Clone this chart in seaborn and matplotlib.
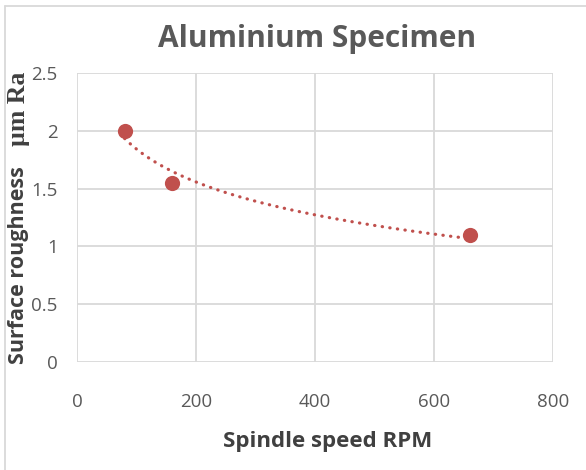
import matplotlib
matplotlib.use("Agg")
import matplotlib.pyplot as plt
import seaborn as sns
import pandas as pd
from matplotlib.lines import Line2D

# Data
spindle_speed = [80, 160, 660]
roughness = [2.0, 1.55, 1.1]
x_ticks = [0, 200, 400, 600, 800]
y_ticks = [0, 0.5, 1, 1.5, 2, 2.5]
y_tick_labels = ["0", "0.5", "1", "1.5", "2", "2.5"]

df = pd.DataFrame({"speed": spindle_speed, "ra": roughness})

sns.set_theme(style="white")
plt.rcParams["font.family"] = ["Open Sans", "DejaVu Sans"]

W, H = 586, 470
fig = plt.figure(figsize=(W / 100, H / 100), dpi=100)
ax = fig.add_axes([77 / W, 1 - 362 / H, (553 - 77) / W, (362 - 73) / H])

red = "#C0504D"
grid_c = "#D9D9D9"

sns.regplot(data=df, x="speed", y="ra", logx=True, ci=None, scatter=False,
            ax=ax, line_kws=dict(color=red, lw=2.3, linestyle=(0, (0.1, 2.3)),
                                 dash_capstyle="round", zorder=3))
sns.scatterplot(data=df, x="speed", y="ra", ax=ax, color=red, s=120,
                edgecolor=red, linewidth=0, zorder=4)

ax.set_xlim(0, 800)
ax.set_ylim(0, 2.5)
ax.set_xticks(x_ticks)
ax.set_yticks(y_ticks)
ax.set_yticklabels(y_tick_labels)
ax.grid(True, color=grid_c, lw=1.3)
for s in ax.spines.values():
    s.set_visible(False)
ax.set_axisbelow(True)
ax.tick_params(axis="both", length=0, labelsize=13.5, labelcolor="#595959")
ax.tick_params(axis="x", pad=22)
ax.tick_params(axis="y", pad=14)
ax.set_xlabel("")
ax.set_ylabel("")

# Title
fig.text(317 / W, 1 - 39 / H, "Aluminium Specimen", ha="center", va="center",
         fontsize=21.5, fontweight="bold", color="#595959")
# X label
fig.text(328 / W, 1 - 441 / H, "Spindle speed RPM", ha="center", va="center",
         fontsize=16, fontweight="bold", color="#404040")
# Y label (mixed fonts as in reference)
fig.text(19 / W, 1 - 364 / H, "Surface roughness", ha="center", va="bottom",
         rotation=90, fontsize=15.5, fontweight="bold", color="#404040")
fig.text(19 / W, 1 - 72 / H, "µm Ra", ha="center", va="top",
         rotation=90, fontsize=18.5, fontweight="bold", color="#404040",
         family=["Liberation Serif", "DejaVu Serif"])

# Chart border (top and left edges only, as visible in reference)
fig.lines.append(Line2D([5 / W, 1], [1 - 6 / H, 1 - 6 / H], transform=fig.transFigure,
                        color=grid_c, lw=1.3))
fig.lines.append(Line2D([5 / W, 5 / W], [0, 1 - 6 / H], transform=fig.transFigure,
                        color=grid_c, lw=1.3))

fig.savefig("out.png", dpi=100)
